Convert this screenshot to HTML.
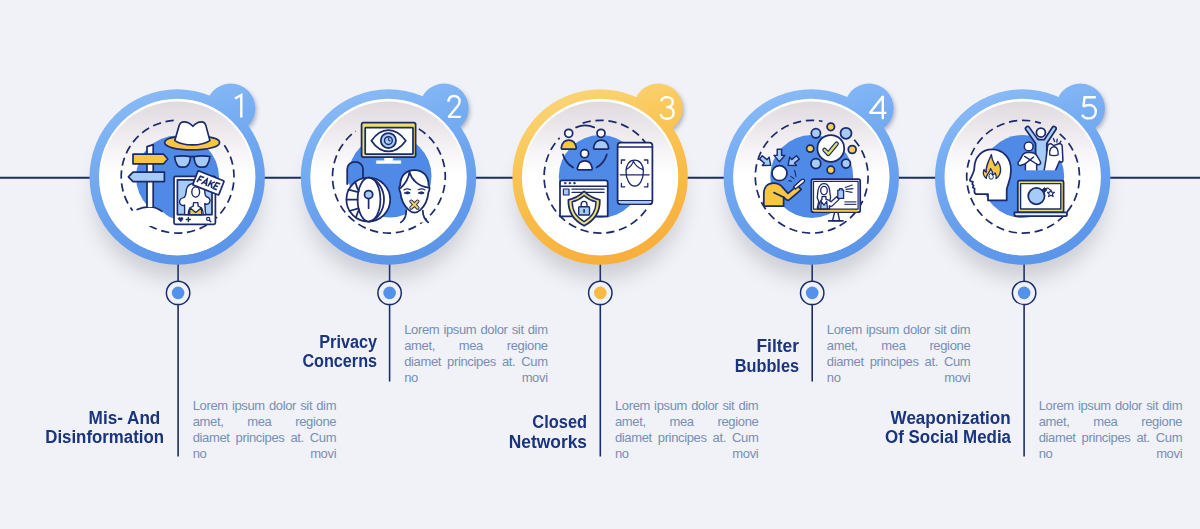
<!DOCTYPE html>
<html><head><meta charset="utf-8"><title>Infographic</title>
<style>
html,body{margin:0;padding:0}
body{width:1200px;height:529px;overflow:hidden;position:relative;background:#f0f2f7;font-family:"Liberation Sans",sans-serif}
.t{position:absolute;font-weight:bold;font-size:18px;line-height:20px;color:#1a347e;text-align:right;white-space:nowrap;transform-origin:100% 50%}
.d{position:absolute;width:143.5px;font-size:13px;line-height:16px;color:#788eb4;letter-spacing:-0.35px}
.d div{display:flex;justify-content:space-between;white-space:nowrap;height:16px}
</style></head><body>

<svg width="1200" height="529" viewBox="0 0 1200 529" style="position:absolute;left:0;top:0">
<defs>
<linearGradient id="gbU" gradientUnits="userSpaceOnUse" x1="-30" y1="-93" x2="30" y2="91"><stop offset="0" stop-color="#8cbcf7"/><stop offset="0.3" stop-color="#76adf2"/><stop offset="0.6" stop-color="#69a1ee"/><stop offset="1" stop-color="#5993e8"/></linearGradient>
<linearGradient id="gyU" gradientUnits="userSpaceOnUse" x1="-30" y1="-93" x2="30" y2="91"><stop offset="0" stop-color="#fbd67c"/><stop offset="0.3" stop-color="#fac758"/><stop offset="0.6" stop-color="#f9bb47"/><stop offset="1" stop-color="#f8ad3a"/></linearGradient>
<linearGradient id="gb" x1="0" y1="0" x2="0" y2="1"><stop offset="0" stop-color="#8dbcf6"/><stop offset="0.45" stop-color="#6da5ef"/><stop offset="1" stop-color="#5690e7"/></linearGradient>
<linearGradient id="gy" x1="0" y1="0" x2="0" y2="1"><stop offset="0" stop-color="#fbd478"/><stop offset="0.45" stop-color="#fabf4c"/><stop offset="1" stop-color="#f8ae3a"/></linearGradient>
<linearGradient id="gbb" x1="0.1" y1="0" x2="0.9" y2="1"><stop offset="0" stop-color="#88b9f6"/><stop offset="0.5" stop-color="#6fa8f0"/><stop offset="1" stop-color="#5691e8"/></linearGradient>
<linearGradient id="gyb" x1="0.1" y1="0" x2="0.9" y2="1"><stop offset="0" stop-color="#fbd57a"/><stop offset="0.5" stop-color="#f9c654"/><stop offset="1" stop-color="#f6b63a"/></linearGradient>
<linearGradient id="gw" x1="0" y1="0" x2="0" y2="1"><stop offset="0" stop-color="#e0dadf"/><stop offset="0.18" stop-color="#ece8ec"/><stop offset="0.4" stop-color="#fbfafb"/><stop offset="0.48" stop-color="#ffffff"/><stop offset="1" stop-color="#ffffff"/></linearGradient>
<filter id="sh" x="-50%" y="-50%" width="200%" height="200%"><feGaussianBlur stdDeviation="10"/></filter>
<filter id="sh2" x="-50%" y="-50%" width="200%" height="200%"><feGaussianBlur stdDeviation="2.5"/></filter>
</defs>
<line x1="0" y1="177.8" x2="1200" y2="177.8" stroke="#1b2c6b" stroke-width="1.9"/>

<g><!-- step 1 -->
<line x1="178.1" y1="255" x2="178.1" y2="456.5" stroke="#1b2c6b" stroke-width="1.6"/>
<ellipse cx="177.2" cy="199.0" rx="83" ry="80" fill="#5a5c66" opacity="0.23" filter="url(#sh)"/>
<circle cx="178.1" cy="292.9" r="11.7" fill="#f0f2f7" stroke="#1b2c6b" stroke-width="1.5"/>
<circle cx="178.1" cy="292.9" r="6.3" fill="#5391ea"/>
<circle cx="232.7" cy="110.7" r="23.5" fill="#39466e" opacity="0.45" filter="url(#sh2)"/>
<g transform="translate(177.2 177.0)"><circle cx="53.50" cy="-68.80" r="24.6" fill="url(#gbU)"/><circle cx="0" cy="0" r="87.7" fill="url(#gbU)"/></g>
<circle cx="177.2" cy="177.0" r="78.2" fill="#ffffff"/>
<circle cx="177.2" cy="178.3" r="76.9" fill="url(#gw)"/>
<path d="M224.36 145.16 A56.4 56.4 0 1 1 174.65 120.38" fill="none" stroke="#1b2a6b" stroke-width="1.7" stroke-dasharray="8.3 4.72"/>
<g fill="none" stroke="#1b2a6b" stroke-width="1.7" stroke-linejoin="round" stroke-linecap="round">
<circle cx="177.5" cy="177.1" r="41.5" fill="#4f8ae6" stroke="none"/>
<!-- white dune covering the lower-left of the disc -->
<path d="M128 214 C136 207.5 143 206.2 149.4 206.6 C156 206.8 160 209 163.5 212.4 C167 215.6 170 217.6 175 218.6 L175 226 L128 226 Z" fill="#ffffff" stroke="none"/>
<path d="M137.2 209.6 C141 207.6 145 206.8 149.4 206.8 C154.5 206.8 158.6 208.6 162 211.4"/>
<!-- pole -->
<path d="M147 207 V146.6 L153.2 144.6 V207" fill="#ffffff"/>
<!-- yellow sign (points right) -->
<path d="M133 154.2 H163.6 L167.8 159 L163.6 163.8 H133 Z" fill="#f8c63f"/>
<!-- blue sign (points left) -->
<path d="M164.4 172.1 H133 L128.4 176.9 L133 181.6 H164.4 Z" fill="#a6cbf5"/>
<!-- hat brim -->
<path d="M164.6 142.6 C164.6 138.2 176 136 192 136 C208 136 219.6 138.2 219.6 142.4 C219.6 146.6 208 149.9 192 149.9 C176 149.9 164.6 146.8 164.6 142.6 Z" fill="#f8c63f"/>
<!-- hat crown -->
<path d="M174.8 140.6 L179 126 C179.7 123.4 181.4 121.9 184 121.9 C187.6 121.9 190.4 123.5 192.9 126.3 C195.4 123.5 198.2 121.9 201.4 121.9 C203.8 121.9 205.2 123.2 205.9 125.6 L209.9 140.6 C205 143.9 198.6 144.9 192.4 144.9 C186.2 144.9 179.6 143.9 174.8 140.6 Z" fill="#ffffff"/>
<!-- glasses -->
<path d="M174.6 156.5 C179 155.7 186 155.7 190.5 156.7 C190.3 160.4 189.4 163.6 187.6 165.6 C186.6 166.7 185.4 167.1 184 167.1 H181 C179.4 167.1 178.2 166.5 177.4 165.2 C175.8 162.8 174.9 159.8 174.6 156.5 Z" fill="#a6cbf5"/>
<path d="M209.9 156.5 C205.5 155.7 198.5 155.7 194 156.7 C194.2 160.4 195.1 163.6 196.9 165.6 C197.9 166.7 199.1 167.1 200.5 167.1 H203.5 C205.1 167.1 206.3 166.5 207.1 165.2 C208.7 162.8 209.6 159.8 209.9 156.5 Z" fill="#a6cbf5"/>
<path d="M190.5 157 C191.5 156.4 193 156.4 194 157"/>
<!-- photo frame -->
<rect x="174" y="176.4" width="41.4" height="48" rx="1.6" fill="#ffffff"/>
<rect x="177.4" y="179.8" width="34.6" height="34.8" fill="#a6cbf5"/>
<!-- woman: hair back -->
<path d="M184.6 214.6 V205 C182.6 206.2 180 205 179.6 202.6 C179.2 200 181.4 198 183.6 197.6 C186 197 186 193 186.4 189.6 C187 185.6 190.6 183.2 195.7 183.2 C200.8 183.2 204.2 185.6 204.6 189.6 C205 193 204.6 196.4 207 197 C209.4 197.6 210.6 199.8 209.8 202 C209 204.2 206.4 204.8 204.8 203.6 L205.6 214.6 Z" fill="#ffffff" stroke-width="1.4"/>
<!-- body -->
<path d="M188.2 214.6 C188.2 210 189.8 207.2 193.2 206.2 L193.6 202.6 H197.8 L198.2 206.2 C201.6 207.2 203.2 210 203.2 214.6 Z" fill="#ffffff" stroke-width="1.4"/>
<path d="M189.6 214.6 L189.9 207.8 L195.7 212.6 L201.5 207.8 L201.8 214.6 Z" fill="#f8c63f" stroke-width="1.3"/>
<!-- face -->
<ellipse cx="195.7" cy="192" rx="3.9" ry="5.1" fill="#ffffff" stroke-width="1.4"/>
<!-- bottom bar icons -->
<path d="M180.6 221.6 L178.6 219.6 C177.8 218.6 178.4 217.4 179.5 217.4 C180.1 217.4 180.5 217.8 180.6 218.2 C180.7 217.8 181.1 217.4 181.7 217.4 C182.8 217.4 183.4 218.6 182.6 219.6 Z" fill="#1b2a6b" stroke-width="0.8"/>
<path d="M186.4 219.5 H190.4 M188.4 217.5 V221.5" stroke-width="1.4"/>
<circle cx="208.2" cy="218.9" r="1.6" stroke-width="1.2"/>
<path d="M209.4 220.2 L210.8 221.8" stroke-width="1.3"/>
<!-- FAKE sign -->
<g transform="translate(208.4 182.9) rotate(21.5)">
<rect x="-14" y="-7.6" width="28" height="15.2" rx="0.8" fill="#ffffff"/>
<g transform="skewX(-9)" stroke-width="1.55" stroke-linecap="butt" stroke-linejoin="miter">
<path d="M-10.4 3.5 V-3.3 H-6.4 M-10.4 0.2 H-7.2"/>
<path d="M-5.7 3.6 L-3.1 -3.2 L-0.5 3.6 M-4.7 1.4 H-1.5"/>
<path d="M1.3 3.5 V-3.5 M5.3 -3.4 L1.5 0.8 M2.9 -0.7 L5.5 3.6"/>
<path d="M10.8 -3.3 H7 V3.3 H10.8 M7 0 H10.2"/>
</g>
</g>
</g>

<path d="M234.9 98.5 L241.3 95.1 V117.6" fill="none" stroke="#ffffff" stroke-width="2.4" stroke-linejoin="miter" stroke-miterlimit="2.2"/>
</g>
<g><!-- step 2 -->
<line x1="389.6" y1="255" x2="389.6" y2="381.5" stroke="#1b2c6b" stroke-width="1.6"/>
<ellipse cx="388.5" cy="199.0" rx="83" ry="80" fill="#5a5c66" opacity="0.23" filter="url(#sh)"/>
<circle cx="389.6" cy="292.9" r="11.7" fill="#f0f2f7" stroke="#1b2c6b" stroke-width="1.5"/>
<circle cx="389.6" cy="292.9" r="6.3" fill="#5391ea"/>
<circle cx="446.0" cy="110.7" r="23.5" fill="#39466e" opacity="0.45" filter="url(#sh2)"/>
<g transform="translate(388.5 177.0)"><circle cx="55.50" cy="-68.80" r="24.6" fill="url(#gbU)"/><circle cx="0" cy="0" r="87.7" fill="url(#gbU)"/></g>
<circle cx="388.5" cy="177.0" r="78.2" fill="#ffffff"/>
<circle cx="388.5" cy="178.3" r="76.9" fill="url(#gw)"/>
<path d="M418.79 128.87 A56.4 56.4 0 1 1 355.75 131.07" fill="none" stroke="#1b2a6b" stroke-width="1.7" stroke-dasharray="8.3 4.72"/>
<g fill="none" stroke="#1b2a6b" stroke-width="1.75" stroke-linejoin="round" stroke-linecap="round">
<circle cx="390" cy="176" r="41.5" fill="#4f8ae6" stroke="none"/>
<!-- monitor -->
<path d="M384.4 157 H392.8 V160.8 H400.8 V163.4 H376.4 V160.8 H384.4 Z" fill="#ffffff" stroke="#dbe8fb" stroke-width="0.8"/>
<rect x="361.6" y="122.6" width="54" height="34.4" rx="1.8" fill="#eee169"/>
<rect x="365.2" y="127.6" width="47.8" height="26.4" rx="0.6" fill="#ffffff"/>
<!-- eye -->
<path d="M371.4 140.7 C376 134 382 130 388.4 130 C394.8 130 401 134 405.8 140.7 C401 147.4 394.8 151.4 388.4 151.4 C382 151.4 376 147.4 371.4 140.7 Z" fill="#ffffff"/>
<circle cx="388.4" cy="140.6" r="7.6" fill="#a6cbf5"/>
<circle cx="388.4" cy="140.6" r="3.9" fill="#a6cbf5" stroke-width="1.4"/>
<path d="M388.6 138.4 C388.2 139.6 388.8 140.6 390 140.8" stroke-width="1.2"/>
<!-- shackle -->
<path d="M347.2 184 V169.6 C347.2 165 350.6 161.8 355.1 161.8 C359.6 161.8 363 165 363 169.6 V180" fill="#4f8ae6"/>
<!-- globe -->
<circle cx="368.3" cy="199.6" r="21.9" fill="#ffffff"/>
<ellipse cx="369" cy="199.6" rx="11.4" ry="21.9" fill="#ffffff"/>
<path d="M369 177.7 C379 180 384 190 384 199.6 C384 209.2 379 219.2 369 221.5"/>
<path d="M346.6 199.6 H357.6 M348.4 189.6 L358.2 192.2 M349.4 211 L358.4 208.4 M355.4 182.4 C356.4 186 357.6 189 358.8 191 M356 217.4 C357 214 358 211.6 359 209.6"/>
<!-- keyhole -->
<path d="M368.6 198.6 V208.2" stroke-width="1.7"/>
<circle cx="368.6" cy="194.6" r="4.1" fill="#a6cbf5"/>
<!-- neck -->
<path d="M406.2 209.4 C406.6 215 405 219.4 400.6 222.4 H428.2 C424.6 219.6 422.6 215.4 422.8 209.6 Z" fill="#ffffff" stroke="none"/>
<path d="M406.2 210.4 C406.4 215.4 404.8 219.6 400.8 222.4 M422.8 210.6 C422.8 215.6 424.6 219.6 428.2 222.4"/>
<!-- head -->
<path d="M414.4 170 C406 170 400.2 176 400.2 185.4 C399 186.4 398.8 189.6 400.4 192.4 C401 199.6 404.4 206 408.6 209.8 C410.6 211.6 412.4 212.6 414.4 212.6 C416.4 212.6 418.4 211.6 420.4 209.8 C424.6 206 427.8 199.6 428.4 192.4 C430 189.6 429.8 186.4 428.6 185.4 C428.6 176 423 170 414.4 170 Z" fill="#ffffff"/>
<!-- hair part -->
<path d="M400.6 188 C403.6 185.4 408.6 179.6 409.6 171.2 M409.4 172 C411.6 179.6 418 186.4 428.4 187.6"/>
<!-- eyes / brows -->
<path d="M404.6 193 C406.2 191.4 408.6 191.4 410.2 193 C408.6 194.2 406.2 194.2 404.6 193 Z M418.6 193 C420.2 191.4 422.6 191.4 424.2 193 C422.6 194.2 420.2 194.2 418.6 193 Z" fill="#1b2a6b" stroke-width="0.9"/>
<path d="M403.8 190 C405.6 188.8 408.6 188.8 410.6 189.8 M418.2 189.8 C420.2 188.8 423.2 188.8 425 190" stroke-width="1.1"/>
<!-- mouth X -->
<path d="M411.2 201.4 L417.6 207.8 M417.6 201.4 L411.2 207.8" stroke="#1b2a6b" stroke-width="3.8"/>
<path d="M411.2 201.4 L417.6 207.8 M417.6 201.4 L411.2 207.8" stroke="#f3d24e" stroke-width="2"/>
</g>

<path d="M448.4 101.8 C448.6 97.8 451 96 454 96 C457.3 96 459.6 98.2 459.6 101.2 C459.6 104.2 457.5 106.6 455 109.2 L448.6 116.9 H460.8" fill="none" stroke="#ffffff" stroke-width="2.4" stroke-linejoin="miter" stroke-miterlimit="2.2"/>
</g>
<g><!-- step 3 -->
<line x1="600.3" y1="255" x2="600.3" y2="456.5" stroke="#1b2c6b" stroke-width="1.6"/>
<ellipse cx="600.1" cy="199.0" rx="83" ry="80" fill="#5a5c66" opacity="0.23" filter="url(#sh)"/>
<circle cx="600.3" cy="292.9" r="11.7" fill="#f0f2f7" stroke="#1b2c6b" stroke-width="1.5"/>
<circle cx="600.3" cy="292.9" r="6.3" fill="#f8ba45"/>
<circle cx="660.2" cy="110.7" r="23.5" fill="#39466e" opacity="0.45" filter="url(#sh2)"/>
<g transform="translate(600.1 177.0)"><circle cx="58.10" cy="-68.80" r="24.6" fill="url(#gyU)"/><circle cx="0" cy="0" r="87.7" fill="url(#gyU)"/></g>
<circle cx="600.1" cy="177.0" r="78.2" fill="#ffffff"/>
<circle cx="600.1" cy="178.3" r="76.9" fill="url(#gw)"/>
<path d="M646.13 209.85 A56.4 56.4 0 1 1 559.59 137.88" fill="none" stroke="#1b2a6b" stroke-width="1.7" stroke-dasharray="8.3 4.72"/>
<path d="M582.70 123.18 A56.4 56.4 0 0 1 645.54 142.76" fill="none" stroke="#1b2a6b" stroke-width="1.7" stroke-dasharray="8.3 4.72"/>
<g fill="none" stroke="#1b2a6b" stroke-width="1.75" stroke-linejoin="round" stroke-linecap="round">
<circle cx="600.3" cy="176.5" r="41.5" fill="#4f8ae6" stroke="none"/>
<!-- connection arcs (circle c=(585,148.4) r=23) -->
<path d="M576.1 127.4 C581.8 124.8 588.4 124.8 594.2 127.4"/>
<path d="M563 154.4 C564.6 160 568 164.4 573.2 167.6"/>
<path d="M606.8 154.4 C605.2 160 601.8 164.4 596.6 167.6"/>
<!-- person 1 (yellow) -->
<circle cx="568.7" cy="133.3" r="4" fill="#ffffff"/>
<path d="M562.6 149.2 C561.6 149.2 561.2 148.4 561.4 147.4 C562.2 143 564.8 140.2 568.8 140.2 C572.8 140.2 575.4 143 576.2 147.4 C576.4 148.4 576 149.2 575 149.2 Z" fill="#f8c63f"/>
<!-- person 2 (light blue) -->
<circle cx="601" cy="133.3" r="4" fill="#ffffff"/>
<path d="M594.9 149.2 C593.9 149.2 593.5 148.4 593.7 147.4 C594.5 143 597.1 140.2 601.1 140.2 C605.1 140.2 607.7 143 608.5 147.4 C608.7 148.4 608.3 149.2 607.3 149.2 Z" fill="#a6cbf5"/>
<!-- person 3 (white) -->
<circle cx="584.6" cy="153.7" r="4" fill="#ffffff"/>
<path d="M578.6 169.8 C577.6 169.8 577.2 169 577.4 168 C578.2 163.6 580.8 160.8 584.8 160.8 C588.8 160.8 591.4 163.6 592.2 168 C592.4 169 592 169.8 591 169.8 Z" fill="#ffffff"/>
<!-- phone -->
<rect x="617.6" y="142.6" width="34.8" height="61.6" rx="3" fill="#ffffff"/>
<path d="M617.6 147 H652.4 M617.6 200.6 H652.4" stroke-width="1.4"/>
<path d="M620 200.9 H650 V202 C650 203 649.4 203.4 648.6 203.4 H621.4 C620.6 203.4 620 203 620 202 Z" fill="#a6cbf5" stroke="none"/>
<!-- face scan -->
<path d="M621.4 163.4 V160 H624.8 M644.4 160 H647.8 V163.4 M647.8 183.4 V186.8 H644.4 M624.8 186.8 H621.4 V183.4" stroke-width="1.3"/>
<path d="M626 171.6 C626 164.6 629.4 160.2 634.6 160.2 C639.8 160.2 643.4 164.6 643.4 171.6 C643.4 179.6 639.4 186 634.7 186 C630 186 626 179.6 626 171.6 Z" stroke-width="1.3"/>
<path d="M626.2 169.6 C629.6 167.6 632.6 164.6 633.6 160.6 M633.4 161.2 C635 165 638.6 168 643.2 169.6" stroke-width="1.2"/>
<path d="M620.2 174.8 H649.2" stroke-width="1.3"/>
<!-- browser -->
<path d="M560 216.4 V182.6 C560 181.2 560.9 180.3 562.3 180.3 H605.4 C606.8 180.3 607.7 181.2 607.7 182.6 V216.4 Z" fill="#ffffff"/>
<path d="M560 186.2 H607.7" stroke-width="1.4"/>
<circle cx="565.2" cy="183.1" r="0.9" fill="#1b2a6b" stroke-width="0.6"/><circle cx="569.8" cy="183.1" r="0.9" fill="#1b2a6b" stroke-width="0.6"/><circle cx="574.4" cy="183.1" r="0.9" fill="#1b2a6b" stroke-width="0.6"/>
<rect x="563.4" y="189" width="5.6" height="6" fill="#a6cbf5" stroke-width="1.2"/>
<path d="M572 189.2 H604.2 M572 192.3 H604.2" stroke-width="1.2"/>
<!-- shield -->
<path d="M584.1 191.4 C579.6 195.6 574.6 198.6 568.4 199.8 C568 211 573.6 220.4 584.1 225.8 C594.6 220.4 600.2 211 599.8 199.8 C593.6 198.6 588.6 195.6 584.1 191.4 Z" fill="#eee169"/>
<path d="M584.1 195.6 C580.6 198.6 576.8 200.8 572.2 201.8 C572.2 210.4 576.4 217.4 584.1 221.6 C591.8 217.4 596 210.4 596 201.8 C591.4 200.8 587.6 198.6 584.1 195.6 Z" fill="#ffffff" stroke-width="1.4"/>
<!-- padlock -->
<path d="M581.2 206.6 V204.4 C581.2 202.6 582.4 201.4 584.1 201.4 C585.8 201.4 587 202.6 587 204.4 V206.6" stroke-width="1.4"/>
<rect x="578.7" y="206.8" width="10.8" height="8.2" rx="0.8" fill="#a6cbf5" stroke-width="1.4"/>
<path d="M584.1 209.8 V212.2" stroke-width="1.6"/>
</g>

<path d="M661.2 101.2 C661.8 98.4 664 97.1 667 97.1 C670.4 97.1 672.7 99 672.7 102 C672.7 105 670.5 107.1 666.3 107.1 C671 107.1 673.6 109.3 673.6 112.7 C673.6 116.3 670.8 118.8 667 118.8 C663.6 118.8 661.3 117 660.6 114" fill="none" stroke="#ffffff" stroke-width="2.4" stroke-linejoin="miter" stroke-miterlimit="2.2"/>
</g>
<g><!-- step 4 -->
<line x1="812.2" y1="255" x2="812.2" y2="381.5" stroke="#1b2c6b" stroke-width="1.6"/>
<ellipse cx="811.3" cy="199.0" rx="83" ry="80" fill="#5a5c66" opacity="0.23" filter="url(#sh)"/>
<circle cx="812.2" cy="292.9" r="11.7" fill="#f0f2f7" stroke="#1b2c6b" stroke-width="1.5"/>
<circle cx="812.2" cy="292.9" r="6.3" fill="#5391ea"/>
<circle cx="871.0" cy="110.7" r="23.5" fill="#39466e" opacity="0.45" filter="url(#sh2)"/>
<g transform="translate(811.3 177.0)"><circle cx="57.70" cy="-68.80" r="24.6" fill="url(#gbU)"/><circle cx="0" cy="0" r="87.7" fill="url(#gbU)"/></g>
<circle cx="811.3" cy="177.0" r="78.2" fill="#ffffff"/>
<circle cx="811.3" cy="178.3" r="76.9" fill="url(#gw)"/>
<path d="M854.27 139.70 A56.4 56.4 0 1 1 822.46 121.34" fill="none" stroke="#1b2a6b" stroke-width="1.7" stroke-dasharray="8.3 4.72"/>
<g fill="none" stroke="#1b2a6b" stroke-width="1.75" stroke-linejoin="round" stroke-linecap="round">
<circle cx="811.7" cy="176.5" r="41.5" fill="#4f8ae6" stroke="none"/>
<!-- bubbles -->
<circle cx="830.8" cy="126.8" r="3.7" fill="#f8cf55"/>
<circle cx="815.9" cy="133.3" r="4.6" fill="#a6cbf5"/>
<circle cx="846" cy="133.3" r="5.5" fill="#a6cbf5"/>
<circle cx="810.2" cy="148.6" r="3.6" fill="#f8cf55"/>
<circle cx="852.2" cy="149.5" r="3.9" fill="#f8cf55"/>
<circle cx="815.9" cy="163.6" r="4.9" fill="#a6cbf5"/>
<circle cx="846" cy="163.6" r="4.4" fill="#a6cbf5"/>
<circle cx="830.8" cy="169.9" r="3.7" fill="#f8cf55"/>
<circle cx="830.8" cy="148.4" r="13.4" fill="#ffffff"/>
<path d="M824.6 150 L828.3 153.8 L836.6 143.8" stroke-width="4.6"/>
<path d="M824.6 150 L828.3 153.8 L836.6 143.8" stroke="#d8dc62" stroke-width="2.3"/>
<!-- arrows -->
<g fill="#a6cbf5" stroke-width="1.4">
<path d="M777.2 149.2 H781.6 V155.4 H784.8 L779.4 161.8 L774 155.4 H777.2 Z"/>
<path d="M777.2 149.2 H781.6 V155.4 H784.8 L779.4 161.8 L774 155.4 H777.2 Z" transform="rotate(-51 779.4 172.4) translate(0 -0.6)"/>
<path d="M777.2 149.2 H781.6 V155.4 H784.8 L779.4 161.8 L774 155.4 H777.2 Z" transform="rotate(51 779.4 172.4) translate(0 -0.6)"/>
</g>
<!-- person torso -->
<path d="M763.8 206.2 V194 C763.8 187.4 767.4 183 773.4 183 C777.6 183 780.8 184.6 782.6 187.4 L788 193.4 L797.6 185.4 L801.2 189.6 L789.4 199.6 C788.4 200.4 787 200.4 786 199.4 L783.6 197.2 V206.2 Z" fill="#f8c63f"/>
<path d="M774 192.6 L783.6 197.2" />
<!-- finger -->
<path d="M793.6 186.8 L801.6 179.6 C802.6 178.8 803.6 179 804.2 179.8 C804.8 180.6 804.6 181.6 803.8 182.2 L795.4 189 Z" fill="#ffffff" stroke-width="1.4"/>
<!-- head -->
<circle cx="779.5" cy="173.2" r="7.5" fill="#ffffff"/>
<!-- sparks -->
<path d="M794.6 170.4 L796 176.4 M790.8 176.4 L794 178.6 M788.8 180.6 L791.6 181.2" stroke-width="1.1"/>
<!-- tv stand -->
<path d="M834.6 212.2 L832.6 220.6 H839.6 L837.8 212.2 Z" fill="#ffffff" stroke-width="1.4"/>
<path d="M828.6 220.9 H843" stroke-width="1.6"/>
<!-- tv -->
<rect x="811.4" y="179" width="48.8" height="33.2" rx="2" fill="#ffffff"/>
<path d="M813.4 209.4 H858.2 V210.6 C858.2 211.4 857.8 211.8 857 211.8 H814.6 C813.8 211.8 813.4 211.4 813.4 210.6 Z" fill="#f8c63f" stroke="none"/>
<rect x="813.5" y="181.3" width="44.6" height="27.9" fill="none" stroke-width="1.2"/>
<!-- woman on tv -->
<path d="M817.4 208.8 C817 205.6 819 204 818.6 201.4 C818.2 199 816.6 198.4 817.4 195.6 C818 193.4 817.4 191.6 818.4 189 C819.4 185.6 821.4 183.6 824 183.6 C826.6 183.6 828.6 185.6 829.4 189 C830.2 191.6 829.6 193.4 830.4 195.6 C831.2 198 829.8 199.2 829.6 201.4 L829.6 208.8 Z" fill="#ffffff" stroke-width="1.3"/>
<path d="M818.6 208.8 C818.8 204 820 200.8 822 199.4 V196.6 H826 V199.4 C828 199.6 829.6 200.4 831 201.8 L836.6 196.8 L839 199.4 L832.6 205.6 C831.4 206.6 830.2 206.4 829.4 205.6 V208.8 Z" fill="#ffffff" stroke-width="1.3"/>
<path d="M820.6 208.8 L821.2 201.4 L824 205.2 L826.8 201.4 L827.4 208.8 Z" fill="#a6cbf5" stroke-width="1.2"/>
<ellipse cx="824" cy="190.6" rx="3.3" ry="4.2" fill="#ffffff" stroke-width="1.3"/>
<!-- bottle -->
<path d="M839.6 188.6 H842.2 V190.2 H843.6 V198.4 H837.8 V190.2 H839.6 Z" fill="#a6cbf5" stroke-width="1.3"/>
<path d="M845.2 187.6 L852.2 185 M846 189.4 L853 188.6 M845.8 191.2 L852 192.4" stroke-width="1.1"/>
<path d="M844.4 201.9 H856.4 M844.4 204.3 H856.4" stroke-width="1.3" stroke="#3a4678" stroke-linecap="butt"/>
</g>

<path d="M882.8 95.8 V119.2 M882.8 96.4 L869.8 112.9 H886.4" fill="none" stroke="#ffffff" stroke-width="2.4" stroke-linejoin="miter" stroke-miterlimit="2.2"/>
</g>
<g><!-- step 5 -->
<line x1="1024.1" y1="255" x2="1024.1" y2="456.5" stroke="#1b2c6b" stroke-width="1.6"/>
<ellipse cx="1022.7" cy="199.0" rx="83" ry="80" fill="#5a5c66" opacity="0.23" filter="url(#sh)"/>
<circle cx="1024.1" cy="292.9" r="11.7" fill="#f0f2f7" stroke="#1b2c6b" stroke-width="1.5"/>
<circle cx="1024.1" cy="292.9" r="6.3" fill="#5391ea"/>
<circle cx="1082.3" cy="110.7" r="23.5" fill="#39466e" opacity="0.45" filter="url(#sh2)"/>
<g transform="translate(1022.7 177.0)"><circle cx="57.60" cy="-68.80" r="24.6" fill="url(#gbU)"/><circle cx="0" cy="0" r="87.7" fill="url(#gbU)"/></g>
<circle cx="1022.7" cy="177.0" r="78.2" fill="#ffffff"/>
<circle cx="1022.7" cy="178.3" r="76.9" fill="url(#gw)"/>
<path d="M1059.73 133.81 A56.4 56.4 0 1 1 1040.81 123.15" fill="none" stroke="#1b2a6b" stroke-width="1.7" stroke-dasharray="8.3 4.72"/>
<g fill="none" stroke="#1b2a6b" stroke-width="1.75" stroke-linejoin="round" stroke-linecap="round">
<circle cx="1022.7" cy="176.5" r="41.5" fill="#4f8ae6" stroke="none"/>
<!-- centre figure (light blue, arms up) -->
<path d="M1027.6 128.6 L1037.6 142.6 M1054 128.6 L1044.8 142.6" stroke-width="5.9"/>
<path d="M1035.6 172.6 V139.6 H1046.8 V172.6 Z" fill="#a6cbf5"/>
<path d="M1027.6 128.6 L1037.6 142.6 M1054 128.6 L1044.8 142.6" stroke="#a6cbf5" stroke-width="2.5"/>
<circle cx="1040.9" cy="132.5" r="4.5" fill="#ffffff"/>
<!-- right figure (hands on head) -->
<path d="M1043.8 172.6 L1046 159.4 L1047.6 146.4 C1047.9 144.2 1049.6 143.2 1051.4 144 L1053.8 145.6 L1058.6 143.8 C1060.4 143.2 1062 144.2 1062.2 146.2 L1062.9 160.2 C1062.9 161.8 1062 162.4 1060.8 162 L1059.4 161.2 L1054.6 172.6 Z" fill="#ffffff" stroke-width="1.5"/>
<path d="M1049.7 154.8 C1049.3 149.8 1050.8 146.8 1053.8 146.8 C1056.8 146.8 1058.5 149.8 1058.1 154.8 C1056.6 155.9 1051.2 155.9 1049.7 154.8 Z" fill="#ffffff" stroke-width="1.4"/>
<path d="M1053.4 138.4 L1054.6 141.6 M1057.2 139.2 L1056.8 142.2 M1061 141.2 L1059.4 143.6" stroke-width="1.3"/>
<!-- left figure (arms crossed) -->
<path d="M1025.4 172.6 V163.6 L1021.2 165.2 C1019.6 165.8 1018.2 165 1018 163.6 C1017.8 162.4 1018.4 161.4 1019.6 160.6 L1022.2 155.8 C1023.2 153.6 1025.2 152.4 1027.6 152.4 H1030.6 C1033.4 152.4 1035.6 153.6 1037 155.8 L1040 161 C1040.8 162.4 1040.6 163.8 1039.6 164.4 C1038.6 165 1037.4 164.8 1036.6 164 L1036.8 172.6 Z" fill="#ffffff" stroke-width="1.5"/>
<path d="M1024.6 156.4 L1036.6 164 M1033.6 157 L1025.4 163.6" stroke-width="1.4"/>
<circle cx="1028.7" cy="146.4" r="4.4" fill="#ffffff" stroke-width="1.5"/>
<rect x="1023" y="170.3" width="39.4" height="4" fill="#4f8ae6" stroke="none"/>
<!-- head profile -->
<path d="M988 200.4 H1006.7 V190 C1006.7 186 1011 181 1011 170 C1011 158 1003 149.4 992.2 149.4 C981.8 149.4 974.6 157 974.4 167.6 C974.4 171.4 973.2 173.6 970.2 179.2 C969.6 180.4 970 181.2 971.2 181.4 L973 181.8 L972.2 184.2 L973.6 185.6 L972.8 187.4 L974.6 188.4 L974.4 191.4 C974.4 193.2 975.6 194.2 977.4 194.2 H988 Z" fill="#ffffff"/>
<!-- flame -->
<path d="M986.4 178.4 C983.4 176.4 982.6 172.6 984 169.4 C984.6 171 985.4 171.8 986.2 172.2 C985.6 167.6 987.4 163.4 991.4 154.6 C991.6 159.4 993.6 162.4 995.2 165.6 C996.6 164.6 997.4 163.2 997.8 161.4 C1000.4 165.4 1001.4 170.6 999.6 174.6 C998.8 176.4 997.6 177.8 996 178.6 C996.6 176.4 996.2 174.6 995 173 C994.4 174 993.6 174.8 992.6 175.2 C992.8 173 992.2 170.6 990.6 168.6 C990.2 171 989 172.4 987.8 174 C986.8 175.4 986.2 176.8 986.4 178.4 Z" fill="#f8c63f" stroke-width="1.3"/>
<path d="M989.6 178.6 C988.4 176.6 989 174.4 990.8 172.8 C991.2 174.2 992 175 992.9 175.5 C993.5 176.6 993.3 177.8 992.6 178.8 Z" fill="#ffffff" stroke-width="1"/>
<!-- laptop -->
<rect x="1017.8" y="180.6" width="45.8" height="31.8" rx="1.6" fill="#eee169"/>
<rect x="1020.6" y="183.6" width="40.2" height="25.4" fill="#ffffff" stroke-width="1.4"/>
<path d="M1014.4 212.4 H1067 V214.2 C1067 215.4 1066.2 216.2 1065 216.2 H1016.4 C1015.2 216.2 1014.4 215.4 1014.4 214.2 Z" fill="#e9f2fd"/>
<!-- bomb -->
<circle cx="1036.4" cy="196.1" r="8.2" fill="#a6cbf5"/>
<path d="M1042.2 189.8 L1044.6 187.6 L1046.8 189.8 L1044.6 192.2 Z" fill="#1b2a6b" stroke-width="1"/>
<path d="M1046 188.6 C1047.6 187.6 1049 188.2 1049.6 189.6" stroke-width="1.2"/>
<path d="M1050.8 189.8 L1051.8 192.2 L1054.4 192.4 L1052.4 194 L1053.2 196.6 L1050.8 195.2 L1048.6 196.6 L1049.2 194 L1047.4 192.4 L1049.8 192.2 Z" fill="#ffffff" stroke-width="1.1"/>
</g>

<path d="M1095.8 97.3 H1084.6 L1083.4 106.6 C1085 105.6 1087 105 1089 105 C1093 105 1095.8 107.8 1095.8 111.6 C1095.8 115.7 1092.8 118.4 1088.8 118.4 C1085.6 118.4 1083.3 117 1082 114.8" fill="none" stroke="#ffffff" stroke-width="2.4" stroke-linejoin="miter" stroke-miterlimit="2.2"/>
</g>
</svg>
<div class="t" style="right:1039.60px;top:407.76px;transform:scaleX(0.952)">Mis- And</div>
<div class="t" style="right:1035.60px;top:426.76px;transform:scaleX(0.935)">Disinformation</div>
<div class="d" style="left:192.7px;top:398.0px"><div><span>Lorem</span><span>ipsum</span><span>dolor</span><span>sit</span><span>dim</span></div><div><span>amet,</span><span>mea</span><span>regione</span></div><div><span>diamet</span><span>principes</span><span>at.</span><span>Cum</span></div><div><span>no</span><span>movi</span></div></div>
<div class="t" style="right:823.10px;top:331.76px;transform:scaleX(0.903)">Privacy</div>
<div class="t" style="right:823.10px;top:350.76px;transform:scaleX(0.899)">Concerns</div>
<div class="d" style="left:404.2px;top:321.5px"><div><span>Lorem</span><span>ipsum</span><span>dolor</span><span>sit</span><span>dim</span></div><div><span>amet,</span><span>mea</span><span>regione</span></div><div><span>diamet</span><span>principes</span><span>at.</span><span>Cum</span></div><div><span>no</span><span>movi</span></div></div>
<div class="t" style="right:613.10px;top:411.76px;transform:scaleX(0.911)">Closed</div>
<div class="t" style="right:613.10px;top:431.76px;transform:scaleX(0.966)">Networks</div>
<div class="d" style="left:614.9px;top:398.0px"><div><span>Lorem</span><span>ipsum</span><span>dolor</span><span>sit</span><span>dim</span></div><div><span>amet,</span><span>mea</span><span>regione</span></div><div><span>diamet</span><span>principes</span><span>at.</span><span>Cum</span></div><div><span>no</span><span>movi</span></div></div>
<div class="t" style="right:401.40px;top:335.76px;transform:scaleX(0.967)">Filter</div>
<div class="t" style="right:401.40px;top:355.76px;transform:scaleX(0.905)">Bubbles</div>
<div class="d" style="left:826.8px;top:321.5px"><div><span>Lorem</span><span>ipsum</span><span>dolor</span><span>sit</span><span>dim</span></div><div><span>amet,</span><span>mea</span><span>regione</span></div><div><span>diamet</span><span>principes</span><span>at.</span><span>Cum</span></div><div><span>no</span><span>movi</span></div></div>
<div class="t" style="right:189.30px;top:407.76px;transform:scaleX(0.948)">Weaponization</div>
<div class="t" style="right:189.30px;top:426.76px;transform:scaleX(0.94)">Of Social Media</div>
<div class="d" style="left:1038.7px;top:398.0px"><div><span>Lorem</span><span>ipsum</span><span>dolor</span><span>sit</span><span>dim</span></div><div><span>amet,</span><span>mea</span><span>regione</span></div><div><span>diamet</span><span>principes</span><span>at.</span><span>Cum</span></div><div><span>no</span><span>movi</span></div></div>
</body></html>
